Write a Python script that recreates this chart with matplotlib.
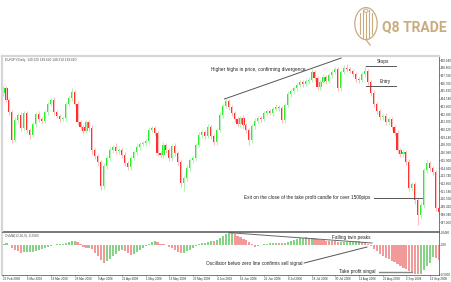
import matplotlib.pyplot as plt
import numpy as np
from matplotlib.patches import Ellipse

plt.rcParams["font.family"] = ["Liberation Sans", "DejaVu Sans"]

# daily candles, oldest first (price in yen)
opens = [
    165.32, 166.02, 164.34, 162.66, 158.74, 161.54, 162.24, 160.42, 162.52, 160.14,
    159.44, 160.98, 162.38, 161.68, 161.40, 162.66, 163.78, 164.34, 162.66, 162.10,
    161.68, 161.82, 163.78, 164.62, 165.46, 163.78, 161.26, 160.56, 160.00, 161.26,
    160.42, 157.34, 156.50, 155.66, 152.30, 155.10, 156.22, 157.34, 157.76, 157.20,
    157.34, 156.64, 155.52, 154.96, 156.22, 157.06, 157.76, 158.18, 158.32, 158.60,
    160.14, 160.42, 159.72, 156.92, 156.64, 158.04, 157.34, 156.22, 157.90, 156.92,
    155.66, 152.72, 153.42, 154.82, 155.94, 156.22, 158.04, 159.44, 159.86, 159.30,
    160.56, 159.30, 158.46, 160.14, 162.24, 163.50, 164.20, 163.36, 162.52, 161.68,
    160.98, 161.82, 160.84, 160.14, 158.74, 160.70, 161.40, 161.82, 161.68, 162.52,
    162.80, 162.52, 163.08, 163.36, 163.22, 161.54, 163.64, 165.18, 165.60, 166.02,
    166.44, 166.86, 166.58, 167.00, 167.14, 168.26, 167.42, 166.16, 166.86, 167.56,
    167.00, 167.84, 168.26, 168.68, 166.02, 168.26, 168.82, 168.68, 168.40, 167.98,
    167.28, 167.14, 167.98, 168.40, 166.86, 165.32, 163.78, 162.80, 161.96, 162.10,
    161.26, 161.68, 160.56, 159.72, 157.34, 156.78, 157.06, 155.66, 152.02, 152.58,
    150.34, 148.24, 149.64, 154.54, 155.52, 154.82, 154.26, 149.22,
]
closes = [
    166.02, 164.34, 162.66, 158.74, 161.54, 162.24, 160.42, 162.52, 160.14, 159.44,
    160.98, 162.38, 161.68, 161.40, 162.66, 163.78, 164.34, 162.66, 162.10, 161.68,
    161.82, 163.78, 164.62, 165.46, 163.78, 161.26, 160.56, 160.00, 161.26, 160.42,
    157.34, 156.50, 155.66, 152.30, 155.10, 156.22, 157.34, 157.76, 157.20, 157.34,
    156.64, 155.52, 154.96, 156.22, 157.06, 157.76, 158.18, 158.32, 158.60, 160.14,
    160.42, 159.72, 156.92, 156.64, 158.04, 157.34, 156.22, 157.90, 156.92, 155.66,
    152.72, 153.42, 154.82, 155.94, 156.22, 158.04, 159.44, 159.86, 159.30, 160.56,
    159.30, 158.46, 160.14, 162.24, 163.50, 164.20, 163.36, 162.52, 161.68, 160.98,
    161.82, 160.84, 160.14, 158.74, 160.70, 161.40, 161.82, 161.68, 162.52, 162.80,
    162.52, 163.08, 163.36, 163.22, 161.54, 163.64, 165.18, 165.60, 166.02, 166.44,
    166.86, 166.58, 167.00, 167.14, 168.26, 167.42, 166.16, 166.86, 167.56, 167.00,
    167.84, 168.26, 168.68, 166.02, 168.26, 168.82, 168.68, 168.40, 167.98, 167.28,
    167.14, 167.98, 168.40, 166.86, 165.32, 163.78, 162.80, 161.96, 162.10, 161.26,
    161.68, 160.56, 159.72, 157.34, 156.78, 157.06, 155.66, 152.02, 152.58, 150.34,
    148.24, 149.64, 154.54, 155.52, 154.82, 154.26, 149.22, 148.66,
]
# shadow length above / below the body
upper_wick = [
    0.30, 0.25, 0.35, 0.30, 0.40, 0.30, 0.45, 0.30, 0.35, 0.25,
    0.30, 0.35, 0.40, 0.30, 0.25, 0.35, 0.30, 0.40, 0.30, 0.25,
    0.35, 0.30, 0.35, 0.55, 0.30, 0.40, 0.25, 0.30, 0.35, 0.30,
    0.40, 0.30, 0.25, 0.35, 0.45, 0.30, 0.40, 0.35, 0.50, 0.30,
    0.35, 0.40, 0.30, 0.35, 0.30, 0.40, 0.30, 0.35, 0.30, 0.40,
    0.30, 0.35, 0.30, 0.25, 0.40, 0.30, 0.35, 0.30, 0.40, 0.30,
    0.35, 0.30, 0.40, 0.30, 0.35, 0.30, 0.40, 0.35, 0.30, 0.40,
    0.30, 0.35, 0.30, 0.40, 0.30, 0.30, 0.35, 0.30, 0.25, 0.35,
    0.30, 0.40, 0.30, 0.35, 0.30, 0.40, 0.30, 0.35, 0.30, 0.30,
    0.35, 0.30, 0.40, 0.30, 0.35, 0.30, 0.40, 0.30, 0.35, 0.30,
    0.30, 0.35, 0.30, 0.40, 0.45, 0.30, 0.35, 0.30, 0.40, 0.30,
    0.35, 0.30, 0.35, 0.30, 0.30, 0.40, 0.55, 0.30, 0.35, 0.30,
    0.35, 0.30, 0.70, 0.35, 0.30, 0.40, 0.30, 0.35, 0.30, 0.40,
    0.30, 0.35, 0.30, 0.40, 0.30, 0.35, 0.30, 0.40, 0.30, 0.35,
    0.30, 0.40, 0.35, 0.45, 0.30, 0.35, 0.30, 0.40,
]
lower_wick = [
    0.35, 0.30, 0.40, 0.45, 0.30, 0.35, 0.40, 0.30, 0.45, 0.50,
    0.30, 0.35, 0.40, 0.45, 0.30, 0.35, 0.30, 0.40, 0.30, 0.35,
    0.30, 0.40, 0.30, 0.35, 0.30, 0.45, 0.35, 0.40, 0.30, 0.35,
    0.50, 0.35, 0.40, 0.55, 0.40, 0.35, 0.45, 0.40, 0.35, 0.40,
    0.35, 0.45, 0.40, 0.35, 0.30, 0.40, 0.35, 0.30, 0.35, 0.40,
    0.30, 0.40, 0.45, 0.35, 0.40, 0.35, 0.40, 0.35, 0.40, 0.45,
    0.60, 1.10, 0.40, 0.35, 0.40, 0.35, 0.30, 0.40, 0.35, 0.30,
    0.40, 0.35, 0.40, 0.30, 0.35, 0.30, 0.35, 0.40, 0.35, 0.40,
    0.35, 0.40, 0.35, 0.70, 0.40, 0.35, 0.30, 0.35, 0.30, 0.35,
    0.30, 0.35, 0.30, 0.35, 0.40, 0.35, 0.30, 0.35, 0.30, 0.35,
    0.30, 0.35, 0.30, 0.35, 0.30, 0.40, 0.45, 0.35, 0.30, 0.35,
    0.30, 0.35, 0.30, 0.45, 0.40, 0.30, 0.35, 0.30, 0.35, 0.40,
    0.35, 0.30, 0.35, 0.40, 0.35, 0.40, 0.35, 0.40, 0.35, 0.40,
    0.35, 0.40, 0.45, 0.40, 0.35, 0.40, 0.45, 0.35, 0.40, 0.50,
    1.35, 0.45, 0.40, 0.35, 0.40, 0.45, 0.40, 0.35,
]
# OsMA histogram, one value per candle
osma = [
    0.030, 0.040, 0.000, -0.060, -0.100, -0.120, -0.150, -0.146, -0.140, -0.136,
    -0.130, -0.110, -0.090, -0.070, -0.050, -0.030, -0.010, 0.006, 0.016, 0.020,
    0.024, 0.036, 0.056, 0.076, 0.088, 0.060, 0.020, -0.030, -0.060, -0.050,
    -0.080, -0.160, -0.220, -0.300, -0.360, -0.320, -0.270, -0.220, -0.170, -0.120,
    -0.090, -0.110, -0.160, -0.190, -0.180, -0.140, -0.100, -0.060, -0.020, 0.030,
    0.070, 0.086, 0.060, 0.030, 0.016, 0.006, -0.030, -0.060, -0.100, -0.130,
    -0.160, -0.150, -0.120, -0.090, -0.060, -0.020, 0.016, 0.036, 0.050, 0.066,
    0.090, 0.080, 0.110, 0.150, 0.190, 0.220, 0.240, 0.246, 0.220, 0.190,
    0.160, 0.130, 0.100, 0.060, 0.030, -0.030, -0.020, 0.010, 0.020, 0.030,
    0.036, 0.040, 0.046, 0.044, 0.036, 0.040, 0.060, 0.090, 0.110, 0.130,
    0.146, 0.150, 0.156, 0.144, 0.148, 0.136, 0.116, 0.104, 0.100, 0.090,
    0.080, 0.076, 0.072, 0.056, 0.060, 0.064, 0.066, 0.068, 0.070, 0.072,
    0.074, 0.060, 0.040, 0.016, -0.020, -0.070, -0.120, -0.170, -0.210, -0.250,
    -0.280, -0.310, -0.340, -0.380, -0.420, -0.450, -0.480, -0.520, -0.550, -0.570,
    -0.580, -0.570, -0.500, -0.420, -0.350, -0.240, -0.260, -0.290,
]
price_ticks = [
    169.940, 168.860, 167.780, 166.700, 165.620, 164.540, 163.460, 162.380,
    161.300, 160.220, 159.140, 158.060, 156.980, 155.900, 154.820, 153.740,
    152.660, 151.580, 150.500, 149.420, 148.340, 147.260,
]
date_bars = [0, 8, 16, 24, 32, 40, 48, 56, 64, 72, 80, 88, 96, 104, 112, 120, 128, 136, 144]
date_labels = [
    "25 Feb 2008", "6 Mar 2008", "18 Mar 2008", "28 Mar 2008", "9 Apr 2008",
    "21 Apr 2008", "1 May 2008", "13 May 2008", "23 May 2008", "4 Jun 2008",
    "16 Jun 2008", "26 Jun 2008", "8 Jul 2008", "18 Jul 2008", "30 Jul 2008",
    "11 Aug 2008", "21 Aug 2008", "2 Sep 2008", "12 Sep 2008",
]

UP, DOWN = "#22ee22", "#ff2b2b"
UP_WICK, DOWN_WICK = "#b5f3b5", "#ffbcbc"
OSC_UP, OSC_DOWN = "#86d286", "#f29a9a"
GOLD = "#c9ab7e"
BORDER = "#d6d6d6"
FRAME = "#444444"
NOTE = dict(fontsize=3.4, color="#222222", va="center")
TICKS = dict(labelsize=2.2, length=1.0, width=0.4, pad=0.4, colors="#333333")

o = np.array(opens)
c = np.array(closes)
idx = np.arange(len(c))
rising = c >= o
body_lo = np.minimum(o, c)
body_hi = np.maximum(o, c)
highs = body_hi + np.array(upper_wick)
lows = body_lo - np.array(lower_wick)

W, H = 451, 282


def box(x0, y0, x1, y1):
    return [x0 / W, 1 - y1 / H, (x1 - x0) / W, (y1 - y0) / H]


fig = plt.figure(figsize=(W / 100, H / 100), dpi=100)
fig.patch.set_facecolor("white")

ax = fig.add_axes(box(2, 56, 439, 231))
osc = fig.add_axes(box(2, 232, 439, 275), sharex=ax)

# candles
ax.vlines(idx, lows, highs, colors=np.where(rising, UP_WICK, DOWN_WICK), linewidth=0.8)
ax.bar(idx, np.maximum(body_hi - body_lo, 0.06), bottom=body_lo, width=0.72,
       color=np.where(rising, UP, DOWN), linewidth=0)
ax.set_xlim(-0.5, 147.0)
ax.set_ylim(146.0, 170.5)

ax.yaxis.tick_right()
ax.set_yticks(price_ticks)
ax.set_yticklabels([f"{v:.3f}" for v in price_ticks])
ax.tick_params(axis="y", **TICKS)
ax.tick_params(axis="x", bottom=False, labelbottom=False)
for side in ("top", "left"):
    ax.spines[side].set_color(BORDER)
    ax.spines[side].set_linewidth(1.6)
for side in ("bottom", "right"):
    ax.spines[side].set_color(FRAME)
    ax.spines[side].set_linewidth(0.5)
ax.text(0.006, 0.988, "EURJPY,Daily  149.220 149.620 148.310 148.660",
        transform=ax.transAxes, fontsize=2.3, color="#555555", va="top")

# oscillator
grow = np.concatenate([[True], np.diff(osma) >= 0])
osc.bar(idx, osma, width=0.72, color=np.where(grow, OSC_UP, OSC_DOWN), linewidth=0)
osc.set_ylim(-0.60, 0.26)
osc.yaxis.tick_right()
osc.set_yticks([0.246, 0.0, -0.58])
osc.set_yticklabels(["0.2460", "0.00", "-0.5800"])
osc.tick_params(axis="y", **TICKS)
osc.set_xticks(date_bars)
osc.set_xticklabels(date_labels, ha="left")
osc.tick_params(axis="x", **TICKS)
osc.spines["left"].set_color(BORDER)
osc.spines["left"].set_linewidth(1.6)
for side in ("top", "bottom", "right"):
    osc.spines[side].set_color(FRAME)
    osc.spines[side].set_linewidth(0.5)
osc.text(0.006, 0.96, "OsMA(12,26,9) -0.2900", transform=osc.transAxes,
         fontsize=2.3, color="#555555", va="top")

# notes on the price panel
ax.plot([74.6, 114.0], [164.48, 170.22], color="#555555", linewidth=0.7)
ax.text(70.2, 168.68, "Higher highs in price, confirming divergence", ha="left", **NOTE)
ax.plot([122.4, 132.5], [169.10, 169.10], color="#555555", linewidth=0.7)
ax.text(126.1, 169.66, "Stops", ha="left", **NOTE)
ax.plot([122.4, 132.5], [166.30, 166.30], color="#555555", linewidth=0.7)
ax.text(126.8, 166.86, "Entry", ha="left", **NOTE)
ax.plot([125.1, 141.3], [150.62, 150.62], color="#555555", linewidth=0.7)
ax.text(124.4, 150.62, "Exit on the close of the take profit candle for over 1500pips ",
        ha="right", **NOTE)

# notes on the oscillator
osc.plot([76.3, 124.4], [0.246, 0.04], color="#666666", linewidth=0.7)
osc.text(110.9, 0.16, "Falling twin peaks", ha="left", **NOTE)
osc.plot([101.5, 122.7], [-0.36, -0.04], color="#555555", linewidth=0.7)
osc.text(100.8, -0.36, "Oscillator belwo zero line confirms sell signal", ha="right", **NOTE)
osc.plot([126.8, 137.9], [-0.54, -0.54], color="#888888", linewidth=1.0)
osc.text(113.3, -0.54, "Take profit singal", ha="left", **NOTE)

# brand mark
logo = fig.add_axes(box(353, 6, 379, 46))
logo.set_xlim(0, 1)
logo.set_ylim(0, 1)
logo.axis("off")
logo.add_patch(Ellipse((0.5, 0.56), 0.86, 0.8, fill=False, edgecolor=GOLD, linewidth=0.9))
for x, y0, y1 in [(0.28, 0.3, 0.82), (0.4, 0.2, 0.9), (0.5, 0.18, 0.82),
                  (0.6, 0.2, 0.9), (0.72, 0.3, 0.82)]:
    logo.plot([x, x], [y0, y1], color=GOLD, linewidth=0.8, solid_capstyle="round")
logo.add_patch(Ellipse((0.5, 0.88), 0.16, 0.08, fill=False, edgecolor=GOLD, linewidth=0.7))
logo.plot([0.5, 0.66], [0.16, 0.02], color=GOLD, linewidth=0.9)
fig.text(382 / W, 1 - 27 / H, "Q8 TRADE", fontsize=10, fontweight="bold",
         color=GOLD, va="center", ha="left", family=["Roboto", "DejaVu Sans"])

fig.savefig("out.png", dpi=100)
